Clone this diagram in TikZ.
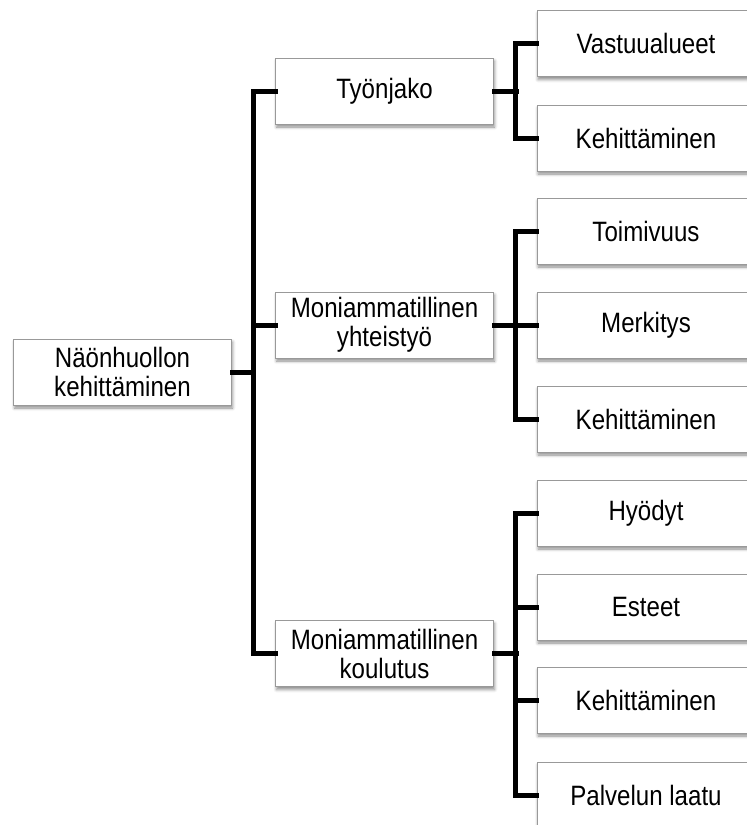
\documentclass[tikz,border=0pt]{standalone}
\usepackage{fontspec}
\setmainfont{Liberation Sans}
\newfontfamily\boxfont[FakeStretch=0.86]{Liberation Sans}
\usetikzlibrary{shadows.blur}
\begin{document}
\begin{tikzpicture}[x=1pt,y=-1pt,
  box/.style={draw=black!40, line width=1pt, fill=white, rectangle,
    minimum width=218pt, minimum height=66pt, inner sep=0pt, align=center,
    font=\boxfont\fontsize{28}{29}\selectfont,
    blur shadow={shadow xshift=1pt, shadow yshift=-3pt, shadow blur radius=3pt, shadow opacity=45}},
  conn/.style={line width=5pt, line join=miter, line cap=rect}]
\useasboundingbox (0,0) rectangle (747,825);
\begin{scope}
\clip (0,0) rectangle (747,825);
% root
\node[box] (root) at (122.5,372) {Näönhuollon\\kehittäminen};
% level 1
\node[box] (tyo) at (384.5,91) {Työnjako};
\node[box] (yht) at (384.5,325) {Moniammatillinen\\yhteistyö};
\node[box] (kou) at (384.5,653.5) {Moniammatillinen\\koulutus};
% level 2
\node[box] (vas) at (646,43.5) {Vastuualueet};
\node[box] (keh1) at (646,138) {Kehittäminen};
\node[box] (toi) at (646,231) {Toimivuus};
\node[box] (mer) at (646,325) {Merkitys};
\node[box] (keh2) at (646,419) {Kehittäminen};
\node[box] (hyo) at (646,513) {Hyödyt};
\node[box] (est) at (646,607) {Esteet};
\node[box] (keh3) at (646,700) {Kehittäminen};
\node[box] (pal) at (646,795) {Palvelun laatu};
% connectors
\draw[conn] (root.east) -- ++(21,0);
\draw[conn] (tyo.west) -- ++(-22,0) |- (kou.west);
\draw[conn] (yht.west) -- ++(-22,0);
\draw[conn] (tyo.east) -- ++(22,0);
\draw[conn] (vas.west) -- ++(-21,0) |- (keh1.west);
\draw[conn] (yht.east) -- ++(22,0);
\draw[conn] (toi.west) -- ++(-21,0) |- (keh2.west);
\draw[conn] (mer.west) -- ++(-21,0);
\draw[conn] (kou.east) -- ++(22,0);
\draw[conn] (hyo.west) -- ++(-21,0) |- (pal.west);
\draw[conn] (est.west) -- ++(-21,0);
\draw[conn] (keh3.west) -- ++(-21,0);
\end{scope}
\end{tikzpicture}
\end{document}
